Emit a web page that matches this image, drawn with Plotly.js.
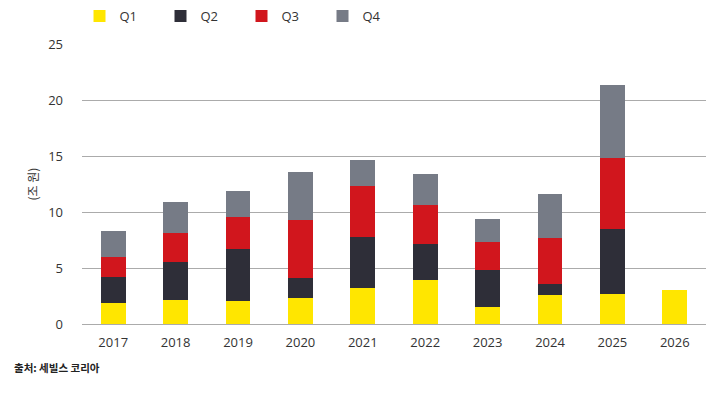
<!DOCTYPE html>
<html>
<head>
<meta charset="utf-8">
<script src="https://cdn.plot.ly/plotly-3.0.1.min.js"></script>
<style>html,body{margin:0;padding:0;background:#fff;}#chart{width:719px;height:394px;}</style>
</head>
<body>
<div id="chart"></div>
<script>
const years = ['2017','2018','2019','2020','2021','2022','2023','2024','2025','2026'];
const q1 = [1.90, 2.17, 2.05, 2.34, 3.21, 3.95, 1.52, 2.58, 2.70, 3.06];
const q2 = [2.32, 3.41, 4.63, 1.76, 4.60, 3.23, 3.26, 0.95, 5.77, null];
const q3 = [1.78, 2.58, 2.86, 5.17, 4.54, 3.48, 2.55, 4.13, 6.33, null];
const q4 = [2.34, 2.77, 2.31, 4.30, 2.27, 2.74, 2.03, 3.98, 6.56, null];
const seriesNames = ['Q1','Q2','Q3','Q4'];
const colors = ['#FFE600','#2E2E38','#D1161D','#767B86'];

const font = "'Open Sans','Noto Sans','Noto Sans CJK KR',sans-serif";
const traces = [q1,q2,q3,q4].map((v,i)=>({
  type:'bar', x: years, y: v, name: seriesNames[i],
  marker:{color: colors[i], line:{width:0}},
  hoverinfo:'skip'
}));

const layout = {
  width:719, height:394,
  margin:{l:82, r:13, t:44, b:70, autoexpand:false},
  barmode:'stack', bargap:0.6,
  paper_bgcolor:'#fff', plot_bgcolor:'#fff',
  font:{family:font, size:13, color:'#333'},
  showlegend:true,
  legend:{orientation:'h', x:-0.004, xanchor:'left', y:1.1, yanchor:'middle',
    font:{family:font, size:13, color:'#333'},
    entrywidth:36, entrywidthmode:'pixels', traceorder:'normal', itemwidth:30},
  xaxis:{type:'category', showgrid:false, zeroline:false, showline:false,
    ticks:'', ticklabelstandoff:9, tickfont:{size:13, color:'#333'}},
  yaxis:{range:[0,25], dtick:5, showgrid:true, gridcolor:'#ABABAB', gridwidth:1,
    zeroline:true, zerolinecolor:'#ABABAB', zerolinewidth:1, showline:false,
    ticks:'', ticklabelstandoff:18, tickfont:{size:13, color:'#333'},
    title:{text:'(조 원)', font:{family:"'Noto Sans CJK KR',sans-serif", size:12, color:'#333'}, standoff:6}},
  annotations:[{xref:'paper', yref:'paper', x:-0.112, y:-0.155, xanchor:'left', yanchor:'middle',
    showarrow:false, text:'<b>출처: 세빌스 코리아</b>',
    font:{family:"'Noto Sans CJK KR',sans-serif", size:10.5, color:'#222'}}]
};
Plotly.newPlot('chart', traces, layout, {displayModeBar:false, staticPlot:true});
</script>
</body>
</html>
